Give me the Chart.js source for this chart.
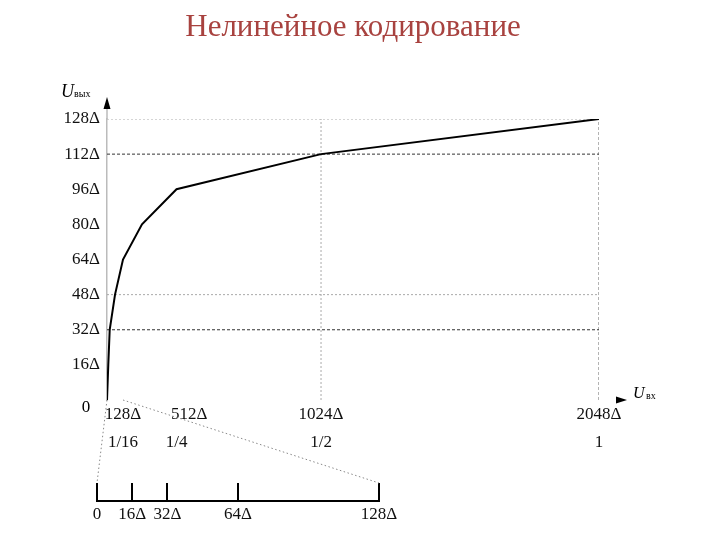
<!DOCTYPE html>
<html lang="ru">
<head>
<meta charset="utf-8">
<title>Нелинейное кодирование</title>
<script src="https://cdn.jsdelivr.net/npm/chart.js@4.4.1/dist/chart.umd.min.js"></script>
<style>
  html, body { margin: 0; padding: 0; background: #fff; }
  canvas { display: block; }
</style>
</head>
<body>
<canvas id="grafico" width="720" height="540"></canvas>
<script>
// характеристика компрессии: Uвх и Uвых в Δ
const uVhod = [0, 16, 32, 64, 128, 256, 512, 1024, 2048];
const uVyhod = [0, 16, 32, 48, 64, 80, 96, 112, 128];

// подписи оси Uвх
const xTicks = [128, 512, 1024, 2048];
const xTickLabels = [['128Δ', '1/16'], ['\u2003\u2002512Δ', '1/4'], ['1024Δ', '1/2'], ['2048Δ', '1']];

// подписи оси Uвых (шаг 16Δ)
const yMax = 128;
const yStep = 16;

// увеличенный начальный участок
const zoomTicks = [0, 16, 32, 64, 128];
const zoomTickLabels = ['0', '16Δ', '32Δ', '64Δ', '128Δ'];

// вспомогательные пунктиры
const levelsDark = [112, 32];
const levelsLight = [128, 48];
const vertLight = [1024];
const vertDark = [2048];

const titulo = 'Нелинейное кодирование';

// ось X нарисована не в масштабе: доли ширины для каждого излома
const scaleKnots = [0, 16, 32, 64, 128, 256, 512, 1024, 2048];
const scaleFrac = [0, 0.0026, 0.0055, 0.0163, 0.0325, 0.0711, 0.1413, 0.435, 1];

const Base = Chart.LinearScale || Chart.registry.getScale('linear');
class SegmentScale extends Base {
    getPixelForValue(v) {
        if (v === null || v === undefined) return NaN;
        let i = 1;
        while (i < scaleKnots.length - 1 && v > scaleKnots[i]) i++;
        const a = scaleKnots[i - 1], b = scaleKnots[i];
        const t = (v - a) / (b - a);
        return this.getPixelForDecimal(scaleFrac[i - 1] + t * (scaleFrac[i] - scaleFrac[i - 1]));
    }
    getValueForPixel(p) {
        const d = this.getDecimalForPixel(p);
        let i = 1;
        while (i < scaleFrac.length - 1 && d > scaleFrac[i]) i++;
        const t = (d - scaleFrac[i - 1]) / (scaleFrac[i] - scaleFrac[i - 1]);
        return scaleKnots[i - 1] + t * (scaleKnots[i] - scaleKnots[i - 1]);
    }
}
SegmentScale.id = 'segmentos';
Chart.register(SegmentScale);

const serif = 'Liberation Serif, Times New Roman, serif';

const guides = [];
levelsDark.forEach(v => guides.push({ data: [{x: 0, y: v}, {x: 2048, y: v}], borderColor: '#333', borderDash: [3, 2] }));
levelsLight.forEach(v => guides.push({ data: [{x: 0, y: v}, {x: 2048, y: v}], borderColor: '#aaa', borderDash: [2, 2] }));
vertLight.forEach(v => guides.push({ data: [{x: v, y: 0}, {x: v, y: yMax}], borderColor: '#aaa', borderDash: [2, 2] }));
vertDark.forEach(v => guides.push({ data: [{x: v, y: 0}, {x: v, y: yMax}], borderColor: '#666', borderDash: [3, 2] }));

const extras = {
    id: 'extras',
    afterDraw(chart) {
        const ctx = chart.ctx;
        const x = chart.scales.x, y = chart.scales.y, z = chart.scales.x2;
        const x0 = x.getPixelForValue(0), y0 = y.getPixelForValue(0);
        const yTop = y.getPixelForValue(yMax);
        ctx.save();
        // заголовок
        ctx.fillStyle = '#a8423f';
        ctx.font = '31px ' + serif;
        ctx.textAlign = 'center';
        ctx.textBaseline = 'middle';
        ctx.fillText(titulo, 353, 28);
        // продолжение оси Y и стрелка
        ctx.strokeStyle = '#bbb';
        ctx.lineWidth = 1.5;
        ctx.beginPath(); ctx.moveTo(x0, yTop); ctx.lineTo(x0, yTop - 12); ctx.stroke();
        ctx.fillStyle = '#000';
        ctx.beginPath(); ctx.moveTo(x0, yTop - 22); ctx.lineTo(x0 - 3.5, yTop - 10); ctx.lineTo(x0 + 3.5, yTop - 10); ctx.fill();
        // стрелка оси X
        const xr = x.getPixelForValue(2048) + 28;
        ctx.beginPath(); ctx.moveTo(xr, y0); ctx.lineTo(xr - 11, y0 - 3.5); ctx.lineTo(xr - 11, y0 + 3.5); ctx.fill();
        // подписи осей
        ctx.textBaseline = 'alphabetic';
        ctx.textAlign = 'left';
        ctx.font = 'italic 18px ' + serif;
        ctx.fillText('U', 61, 97);
        ctx.font = '10px ' + serif;
        ctx.fillText('вых', 74, 97);
        ctx.font = 'italic 16px ' + serif;
        ctx.fillText('U', 633, 398);
        ctx.font = '10px ' + serif;
        ctx.fillText('вх', 646, 399);
        ctx.font = '17px ' + serif;
        ctx.textAlign = 'center';
        ctx.textBaseline = 'middle';
        ctx.fillText('0', x0 - 21, y0 + 8);
        // линия увеличенной шкалы
        const zy = z.top + 18;
        ctx.strokeStyle = '#000';
        ctx.lineWidth = 2;
        ctx.beginPath(); ctx.moveTo(z.getPixelForValue(0) - 1, zy); ctx.lineTo(z.getPixelForValue(128) + 1, zy); ctx.stroke();
        // пунктирные выноски
        ctx.strokeStyle = '#888';
        ctx.lineWidth = 1;
        ctx.setLineDash([1.5, 2.5]);
        ctx.beginPath();
        ctx.moveTo(x0, y0); ctx.lineTo(z.getPixelForValue(0), z.top);
        ctx.moveTo(x.getPixelForValue(128), y0); ctx.lineTo(z.getPixelForValue(128), z.top);
        ctx.stroke();
        ctx.restore();
    }
};

new Chart(document.getElementById('grafico'), {
    type: 'scatter',
    data: {
        datasets: [{
            data: uVhod.map((v, i) => ({x: v, y: uVyhod[i]})),
            borderColor: '#000',
            borderWidth: 2
        }].concat(guides.map(g => Object.assign({ borderWidth: 1 }, g)))
    },
    options: {
        responsive: false,
        animation: false,
        showLine: true,
        elements: { point: { radius: 0 }, line: { tension: 0 } },
        layout: { padding: { left: 0, right: 121, top: 119, bottom: 0 } },
        plugins: {
            legend: { display: false },
            tooltip: { enabled: false },
            title: { display: false }
        },
        scales: {
            x: {
                type: 'segmentos',
                min: 0,
                max: 2048,
                weight: 0,
                afterBuildTicks: s => { s.ticks = xTicks.map(v => ({value: v})); },
                afterFit: s => { s.height = 83; },
                grid: { display: false, drawTicks: false },
                border: { display: false },
                ticks: {
                    autoSkip: false,
                    maxRotation: 0,
                    padding: 1,
                    color: '#111',
                    font: { family: serif, size: 17, lineHeight: 1.62 },
                    callback: (v, i) => xTickLabels[i]
                }
            },
            x2: {
                type: 'linear',
                position: 'bottom',
                weight: 1,
                bounds: 'data',
                min: 4.54,
                max: 227.86,
                afterBuildTicks: s => { s.ticks = zoomTicks.map(v => ({value: v})); },
                afterFit: s => { s.height = 57; },
                grid: { drawOnChartArea: false, drawTicks: true, tickLength: 18, color: '#000', lineWidth: 2 },
                border: { display: false },
                ticks: {
                    autoSkip: false,
                    maxRotation: 0,
                    padding: 3,
                    color: '#111',
                    font: { family: serif, size: 17 },
                    callback: (v, i) => zoomTickLabels[i]
                }
            },
            y: {
                min: 0,
                max: yMax,
                afterFit: s => { s.width = 107; },
                grid: { display: false, drawTicks: false },
                border: { color: '#bbb', width: 1.5 },
                ticks: {
                    stepSize: yStep,
                    padding: 7,
                    color: '#111',
                    font: { family: serif, size: 17 },
                    callback: v => v === 0 ? '' : v + 'Δ'
                }
            }
        }
    },
    plugins: [extras]
});
</script>
</body>
</html>
